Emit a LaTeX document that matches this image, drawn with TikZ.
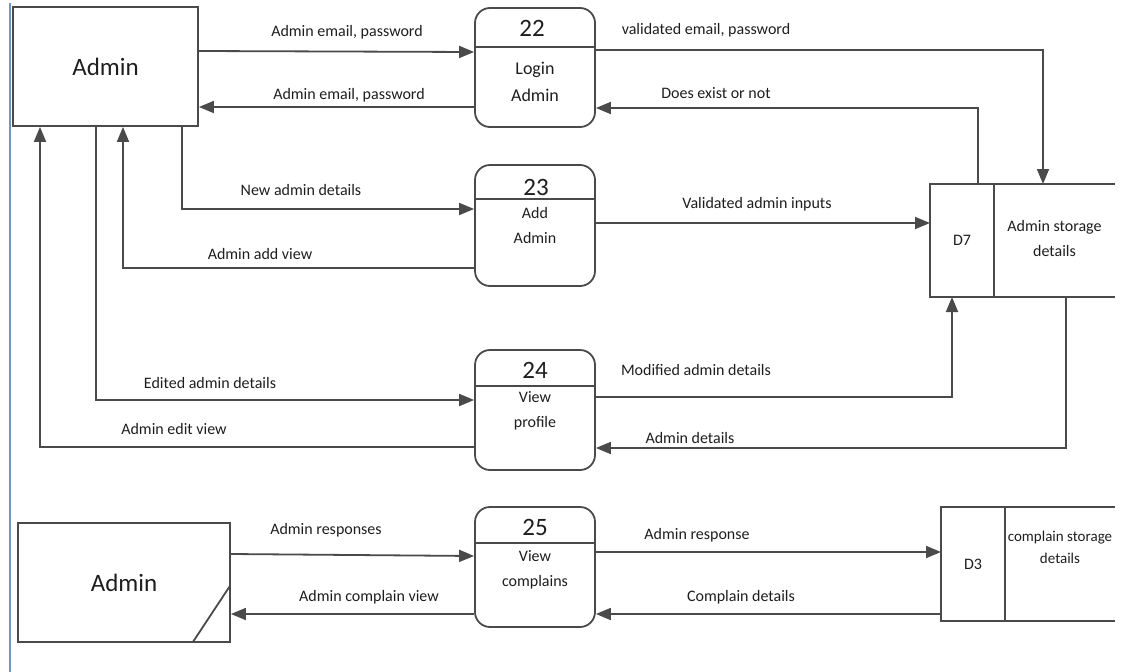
\documentclass[tikz,border=0pt]{standalone}
\usepackage{fontspec}
\setmainfont{Carlito}
\usetikzlibrary{arrows.meta,calc}
\definecolor{linegray}{HTML}{4A4A4A}
\definecolor{inkgray}{HTML}{1E1E1E}
\definecolor{marginblue}{HTML}{6F95CB}
\begin{document}
\begin{tikzpicture}[x=1pt,y=-1pt,
  every node/.style={inner sep=0pt,outer sep=0pt,text=inkgray},
  entity/.style={draw=linegray,line width=1.8pt,rectangle,outer sep=0.9pt,
    font=\fontsize{25}{28}\selectfont},
  proc/.style={draw=linegray,line width=1.8pt,rectangle,rounded corners=15pt,
    minimum width=120pt,outer sep=0.9pt},
  procnum/.style={font=\fontsize{25}{28}\selectfont},
  procname/.style={font=\fontsize{16}{25}\selectfont,align=center},
  cell/.style={rectangle,minimum height=113pt},
  storetext/.style={font=\fontsize{16}{25}\selectfont,align=center},
  lbl/.style={font=\fontsize{16}{19}\selectfont},
  edge/.style={draw=linegray,line width=1.8pt},
  flow/.style={edge,-{Triangle[length=15pt,width=12pt]}}]
\useasboundingbox (0,0) rectangle (1130,672);

% margin rule
\draw[marginblue,line width=1.5pt] (10,3) -- (10,672);

% external entities
\node[entity,minimum width=185pt,minimum height=119pt] (admin1) at (105.5,66.5) {Admin};
\node[entity,minimum width=212pt,minimum height=119pt] (admin2) at (124,582.5) {Admin};
\draw[edge] ($(admin2.south east)+(-38,-0.9)$) -- ($(admin2.south east)+(-0.9,-57)$);

% processes
\node[proc,minimum height=119pt] (p22) at (535,67.5) {};
\node[proc,minimum height=121pt] (p23) at (535,225.5) {};
\node[proc,minimum height=120pt] (p24) at (535,410) {};
\node[proc,minimum height=120pt] (p25) at (535,567) {};
\foreach \p/\y in {p22/47,p23/199,p24/386,p25/543}
  \draw[edge] (\p.west |- 0,\y) -- (\p.east |- 0,\y);
\node[procnum] (n22) at (532,28) {22};
\node[procnum] (n23) at (536,187) {23};
\node[procnum] (n24) at (535,370) {24};
\node[procnum] (n25) at (535,527) {25};
\node[procname,font=\fontsize{18}{27}\selectfont] (t22) at (535,81.5) {Login\\Admin};
\node[procname] (t23) at (535,225) {Add\\Admin};
\node[procname] (t24) at (535,410.5) {View\\profile};
\node[procname] (t25) at (535,569.5) {View\\complains};

% data stores
\node[cell,minimum width=64pt] (d7) at (962,240.5) {\fontsize{16}{19}\selectfont D7};
\node[cell,minimum width=121pt] (d7n) at (1054.5,240.5) {};
\node[storetext] (d7t) at (1054.5,239) {Admin storage\\details};
\draw[edge] (d7n.north east) -- (d7.north west) -- (d7.south west) -- (d7n.south east);
\draw[edge] (d7.north east) -- (d7.south east);

\node[cell,minimum width=64pt,minimum height=114pt] (d3) at (973,564) {\fontsize{16}{19}\selectfont D3};
\node[cell,minimum width=110pt,minimum height=114pt] (d3n) at (1060,564) {};
\node[storetext,font=\fontsize{15}{22}\selectfont] (d3t) at (1060,547) {complain storage\\details};
\draw[edge] (d3n.north east) -- (d3.north west) -- (d3.south west) -- (d3n.south east);
\draw[edge] (d3.north east) -- (d3.south east);

% data flows
\draw[flow] (admin1.east |- 0,51) -- (p22.west |- 0,52);
\draw[flow] (p22.west |- 0,107) -- (admin1.east |- 0,107);
\draw[flow] (p22.east |- 0,50) -| (1043,0 |- d7.north);
\draw[flow] (978,0 |- d7.north) |- (p22.east |- 0,108);
\draw[flow] (182,0 |- admin1.south) |- (p23.west |- 0,209);
\draw[flow] (p23.west |- 0,268) -| (123,0 |- admin1.south);
\draw[flow] (p23.east |- 0,223) -- (d7.west |- 0,223);
\draw[flow] (96,0 |- admin1.south) |- (p24.west |- 0,400);
\draw[flow] (p24.west |- 0,447) -| (40,0 |- admin1.south);
\draw[flow] (p24.east |- 0,397) -| (952,0 |- d7.south);
\draw[flow] (1066,0 |- d7.south) |- (p24.east |- 0,448);
\draw[flow] (admin2.east |- 0,554) -- (p25.west |- 0,556);
\draw[flow] (p25.west |- 0,614) -- (admin2.east |- 0,614);
\draw[flow] (p25.east |- 0,552) -- (d3.west |- 0,552);
\draw[flow] (d3.west |- 0,614) -- (p25.east |- 0,614);

% flow labels
\node[lbl] (l1) at (347,32) {Admin email, password};
\node[lbl] (l2) at (349,95) {Admin email, password};
\node[lbl] (l3) at (706,30) {validated email, password};
\node[lbl] (l4) at (716,93) {Does exist or not};
\node[lbl] (l5) at (301,190) {New admin details};
\node[lbl] (l6) at (260,254) {Admin add view};
\node[lbl] (l7) at (757,204) {Validated admin inputs};
\node[lbl] (l8) at (210,383) {Edited admin details};
\node[lbl] (l9) at (174,429) {Admin edit view};
\node[lbl] (l10) at (696,370) {Modified admin details};
\node[lbl] (l11) at (690,438) {Admin details};
\node[lbl] (l12) at (326,530) {Admin responses};
\node[lbl] (l13) at (369,597) {Admin complain view};
\node[lbl] (l14) at (697,535) {Admin response};
\node[lbl] (l15) at (741,597) {Complain details};
\end{tikzpicture}
\end{document}
